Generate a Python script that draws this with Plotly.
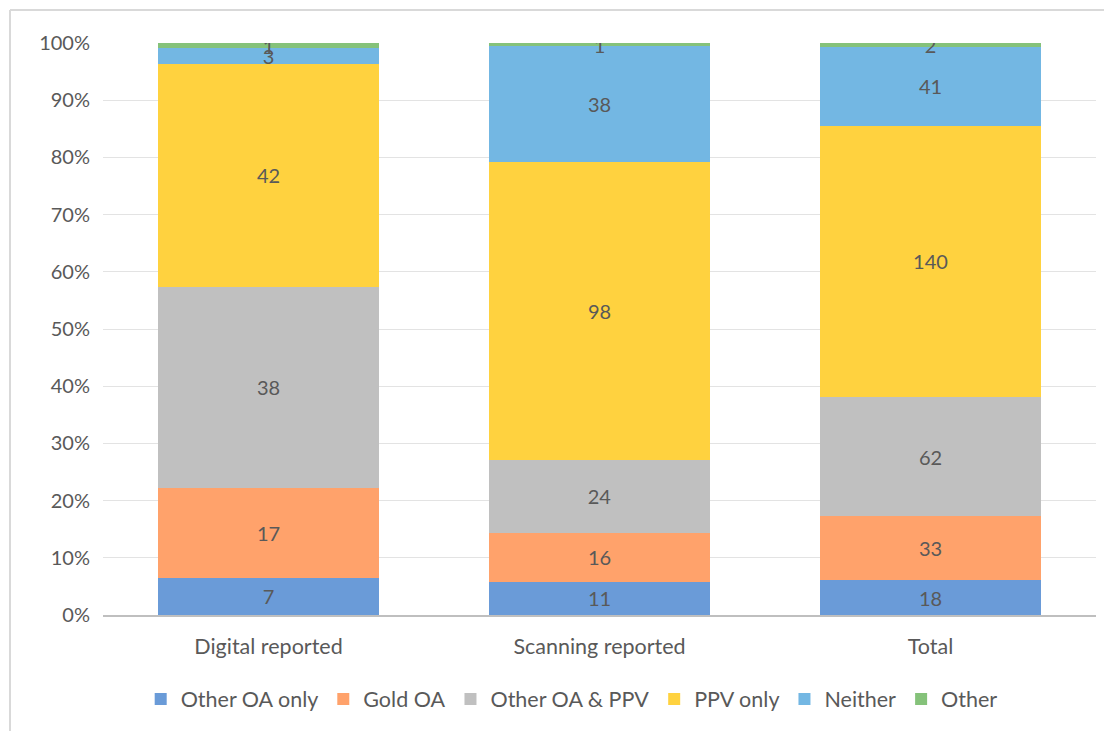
import plotly.graph_objects as go

categories = ["Digital reported", "Scanning reported", "Total"]
series_names = ["Other OA only", "Gold OA", "Other OA & PPV", "PPV only", "Neither", "Other"]
other_oa_only = [7, 11, 18]
gold_oa = [17, 16, 33]
other_oa_ppv = [38, 24, 62]
ppv_only = [42, 98, 140]
neither = [3, 38, 41]
other = [1, 1, 2]
y_ticks = [0, 10, 20, 30, 40, 50, 60, 70, 80, 90, 100]
y_tick_labels = [f"{v}%" for v in y_ticks]

series_values = [other_oa_only, gold_oa, other_oa_ppv, ppv_only, neither, other]
colors = ["#6A9BD8", "#FFA26B", "#C0C0C0", "#FFD23F", "#73B7E3", "#85C27A"]

FONT = "Lato, 'Open Sans', sans-serif"
TXT = "#595959"

# page has an 8px body margin; figure is sized to fit the 1112x731 window
W, H = 1104, 723
L, T, R, B = 95, 35, 16, 116
PW, PH = W - L - R, H - T - B

fig = go.Figure()
for name, vals, col in zip(series_names, series_values, colors):
    fig.add_trace(go.Bar(
        name=name, x=categories, y=vals,
        marker=dict(color=col, line=dict(width=0)),
        text=[str(v) for v in vals],
        textposition="inside", insidetextanchor="middle",
        constraintext="none", textangle=0,
        textfont=dict(family=FONT, size=20, color=TXT),
        hoverinfo="name+y",
    ))

fig.update_layout(
    barmode="stack", barnorm="percent",
    bargap=0.333,
    width=W, height=H,
    margin=dict(l=L, r=R, t=T, b=B, autoexpand=False),
    paper_bgcolor="white", plot_bgcolor="white",
    font=dict(family=FONT, size=20, color=TXT),
    showlegend=True,
    legend=dict(orientation="h", x=0.472, xanchor="center", y=-0.111, yanchor="top",
                font=dict(family=FONT, size=21.5, color=TXT), traceorder="normal",
                itemwidth=30),
)
fig.update_yaxes(range=[0, 100], tickvals=y_ticks, ticktext=y_tick_labels,
                 showgrid=True, gridcolor="#E3E3E3", gridwidth=1,
                 zeroline=False, showline=False, ticks="", ticklabelstandoff=12,
                 tickfont=dict(family=FONT, size=20, color=TXT))
fig.update_xaxes(showline=True, linecolor="#BFBFBF", linewidth=2, ticks="",
                 tickfont=dict(family=FONT, size=21.5, color=TXT), ticklabelstandoff=11)

# outer chart border (left and top)
bx = (2 - L) / PW
by = (T + PH - 2) / PH
fig.add_shape(type="line", xref="paper", yref="paper",
              x0=bx, x1=bx, y0=(T + PH - H) / PH, y1=by,
              line=dict(color="#D9D9D9", width=2))
fig.add_shape(type="line", xref="paper", yref="paper",
              x0=bx, x1=(W - L) / PW, y0=by, y1=by,
              line=dict(color="#D9D9D9", width=2))

fig.write_html("out.html")
